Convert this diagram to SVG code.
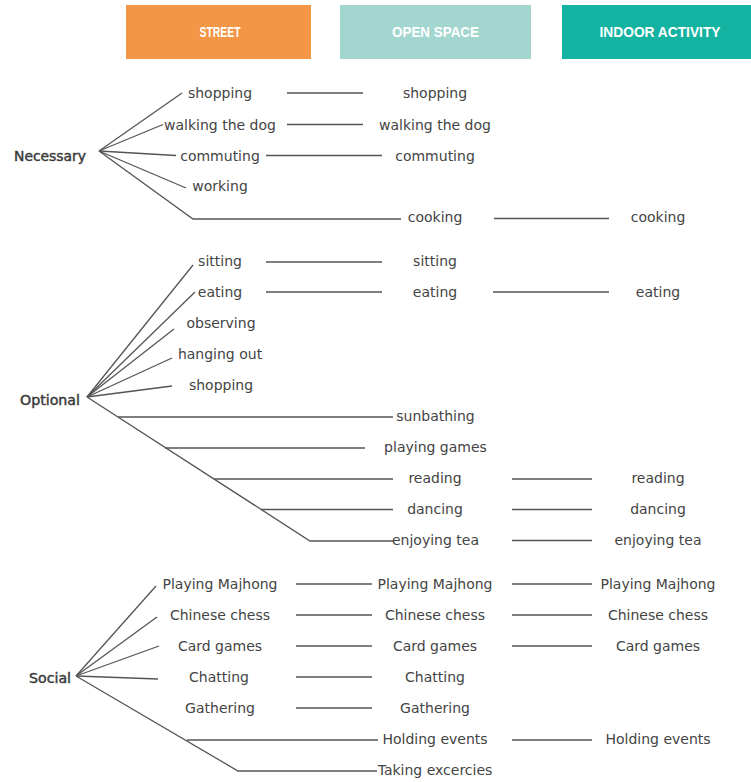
<svg xmlns="http://www.w3.org/2000/svg" width="751" height="782" viewBox="0 0 751 782">
<style>
.hdr{font-family:"Liberation Sans",Arial,sans-serif;font-weight:bold;font-size:15px;fill:#ffffff;text-anchor:middle}
.t{font-family:"DejaVu Sans","Liberation Sans",sans-serif;font-size:14px;fill:#444444;text-anchor:middle}
.cat{font-family:"DejaVu Sans","Liberation Sans",sans-serif;font-size:14px;fill:#3a3a3a;stroke:#3a3a3a;stroke-width:0.45;text-anchor:start}
.c line,.c polyline{stroke:#555555;stroke-width:1.3;fill:none}
</style>
<rect width="751" height="782" fill="#ffffff"/>
<g id="header-street"><rect x="126" y="5" width="185" height="54" fill="#F39646"/><text class="hdr" x="220" y="36.5" textLength="41" lengthAdjust="spacingAndGlyphs">STREET</text></g>
<g id="header-open"><rect x="340" y="5" width="191" height="54" fill="#A3D6CF"/><text class="hdr" x="435.5" y="36.5" textLength="87" lengthAdjust="spacingAndGlyphs">OPEN SPACE</text></g>
<g id="header-indoor"><rect x="562" y="5" width="189" height="54" fill="#14B3A1"/><text class="hdr" x="660" y="36.5" textLength="121" lengthAdjust="spacingAndGlyphs">INDOOR ACTIVITY</text></g>

<g class="c" id="connectors">
<!-- Necessary -->
<line x1="99" y1="151" x2="182" y2="93"/>
<line x1="99" y1="151" x2="163" y2="124.5"/>
<line x1="99" y1="151" x2="176" y2="155.5"/>
<line x1="99" y1="151" x2="186" y2="188"/>
<polyline points="99,151 193,219 401,219"/>
<line x1="287" y1="93" x2="363" y2="93"/>
<line x1="287" y1="124.5" x2="363" y2="124.5"/>
<line x1="266" y1="155.5" x2="382" y2="155.5"/>
<line x1="494" y1="218.5" x2="609" y2="218.5"/>
<!-- Optional -->
<line x1="87" y1="397" x2="193" y2="265"/>
<line x1="87" y1="397" x2="195" y2="292"/>
<line x1="87" y1="397" x2="174" y2="329"/>
<line x1="87" y1="397" x2="172" y2="358"/>
<line x1="87" y1="397" x2="172" y2="386"/>
<polyline points="87,397 310,541 393,541"/>
<line x1="118" y1="417" x2="393" y2="417"/>
<line x1="165" y1="448" x2="365" y2="448"/>
<line x1="214" y1="479" x2="393" y2="479"/>
<line x1="261" y1="509.5" x2="393" y2="509.5"/>
<line x1="266" y1="262" x2="382" y2="262"/>
<line x1="266" y1="292" x2="382" y2="292"/>
<line x1="493" y1="292" x2="609" y2="292"/>
<line x1="512" y1="479" x2="592" y2="479"/>
<line x1="512" y1="509.5" x2="592" y2="509.5"/>
<line x1="512" y1="540.5" x2="592" y2="540.5"/>
<!-- Social -->
<line x1="76" y1="676" x2="156" y2="586"/>
<line x1="76" y1="676" x2="157" y2="617"/>
<line x1="76" y1="676" x2="159" y2="646"/>
<line x1="76" y1="676" x2="158" y2="679"/>
<polyline points="76,676 238,771 377,771"/>
<line x1="187" y1="740" x2="378" y2="740"/>
<line x1="296" y1="584" x2="372" y2="584"/>
<line x1="296" y1="615" x2="372" y2="615"/>
<line x1="296" y1="646" x2="372" y2="646"/>
<line x1="296" y1="677" x2="372" y2="677"/>
<line x1="296" y1="708" x2="372" y2="708"/>
<line x1="512" y1="584" x2="592" y2="584"/>
<line x1="512" y1="615" x2="592" y2="615"/>
<line x1="512" y1="646" x2="592" y2="646"/>
<line x1="512" y1="740" x2="592" y2="740"/>
</g>

<g id="cat-necessary"><text class="cat" x="14" y="160.5" textLength="72" lengthAdjust="spacingAndGlyphs">Necessary</text></g>
<g id="cat-optional"><text class="cat" x="20" y="405" textLength="60" lengthAdjust="spacingAndGlyphs">Optional</text></g>
<g id="cat-social"><text class="cat" x="29" y="683" textLength="42" lengthAdjust="spacingAndGlyphs">Social</text></g>

<g id="necessary-street">
<text class="t" x="220" y="98">shopping</text>
<text class="t" x="220" y="129.5">walking the dog</text>
<text class="t" x="220" y="160.5">commuting</text>
<text class="t" x="220" y="191">working</text>
</g>
<g id="necessary-open">
<text class="t" x="435" y="98">shopping</text>
<text class="t" x="435" y="129.5">walking the dog</text>
<text class="t" x="435" y="160.5">commuting</text>
<text class="t" x="435" y="222">cooking</text>
</g>
<g id="necessary-indoor">
<text class="t" x="658" y="222">cooking</text>
</g>

<g id="optional-street">
<text class="t" x="220" y="266">sitting</text>
<text class="t" x="220" y="297">eating</text>
<text class="t" x="221" y="328">observing</text>
<text class="t" x="220" y="359">hanging out</text>
<text class="t" x="221" y="390">shopping</text>
</g>
<g id="optional-open">
<text class="t" x="435" y="266">sitting</text>
<text class="t" x="435" y="297">eating</text>
<text class="t" x="435.5" y="421">sunbathing</text>
<text class="t" x="435.5" y="452">playing games</text>
<text class="t" x="435" y="483">reading</text>
<text class="t" x="435" y="514">dancing</text>
<text class="t" x="435.5" y="545">enjoying tea</text>
</g>
<g id="optional-indoor">
<text class="t" x="658" y="297">eating</text>
<text class="t" x="658" y="483">reading</text>
<text class="t" x="658" y="514">dancing</text>
<text class="t" x="658" y="545">enjoying tea</text>
</g>

<g id="social-street">
<text class="t" x="220" y="589">Playing Majhong</text>
<text class="t" x="220" y="620">Chinese chess</text>
<text class="t" x="220" y="651">Card games</text>
<text class="t" x="219" y="682">Chatting</text>
<text class="t" x="220" y="713">Gathering</text>
</g>
<g id="social-open">
<text class="t" x="435" y="589">Playing Majhong</text>
<text class="t" x="435" y="620">Chinese chess</text>
<text class="t" x="435" y="651">Card games</text>
<text class="t" x="435" y="682">Chatting</text>
<text class="t" x="435" y="713">Gathering</text>
<text class="t" x="435" y="744">Holding events</text>
<text class="t" x="435" y="775">Taking excercies</text>
</g>
<g id="social-indoor">
<text class="t" x="658" y="589">Playing Majhong</text>
<text class="t" x="658" y="620">Chinese chess</text>
<text class="t" x="658" y="651">Card games</text>
<text class="t" x="658" y="744">Holding events</text>
</g>
</svg>
